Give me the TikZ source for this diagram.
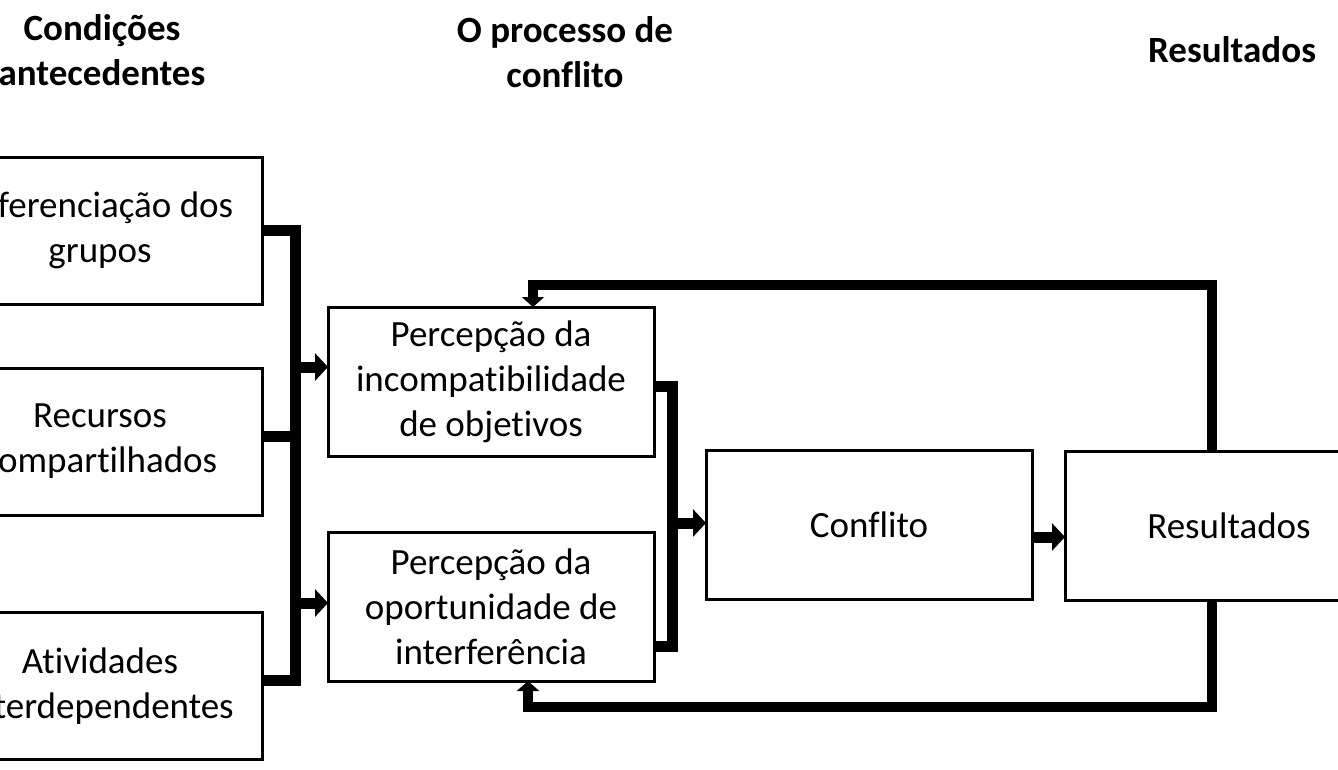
\documentclass[tikz,border=0pt]{standalone}
\usepackage{fontspec}
\setmainfont{Carlito}[Ligatures=NoCommon]
\usetikzlibrary{arrows.meta,calc}
\begin{document}
\begin{tikzpicture}[x=1pt,y=-1pt,
  box/.style={draw,line width=3pt,rectangle,inner sep=0pt,outer sep=0pt,
    minimum height=147pt,align=center,font=\fontsize{37}{45}\selectfont},
  head/.style={align=center,font=\fontsize{37}{45}\selectfont\bfseries},
  bus/.style={line width=11pt,line join=miter,line cap=butt},
  fat/.style={line width=11pt,-{Triangle[length=13pt,width=27pt]}},
  fb/.style={line width=10pt,line join=miter,-{Triangle[length=10pt,width=22pt]}}]
\useasboundingbox (0,0) rectangle (1338,769);
\clip (0,0) rectangle (1338,769);
\fill[white] (0,0) rectangle (1338,769);
% headings
\node[head] (h1) at (102,50) {Condições\\antecedentes};
\node[head] (h2) at (565,52) {O processo de\\conflito};
\node[head] (h3) at (1232,50) {Resultados};
% left boxes
\node[box,minimum width=324pt] (b1) at (100,230.5) {Diferenciação dos\\grupos};
\node[box,minimum width=324pt] (b2) at (100,441.5) {Recursos\\compartilhados};
\node[box,minimum width=324pt] (b3) at (100,686) {Atividades\\interdependentes};
% middle boxes
\node[box,minimum width=326pt,minimum height=149pt] (p1) at (491,381.5) {Percepção da\\incompatibilidade\\de objetivos};
\node[box,minimum width=326pt,minimum height=149pt] (p2) at (491,606.5) {Percepção da\\oportunidade de\\interferência};
\node[box,minimum width=326pt,minimum height=149pt] (c) at (869,524.5) {Conflito};
\node[box,minimum width=328pt,minimum height=149pt] (r) at (1229,525.5) {Resultados};
% left bus
\coordinate (bx) at (295,0);
\draw[bus] (b1.east) -| (bx |- 0,680) -- (b3.east |- 0,680);
\draw[bus] (b2.east |- 0,436) -- (bx |- 0,436);
\coordinate (j1) at (295,367);
\coordinate (j2) at (295,603);
\draw[fat] (j1) -- (j1 -| p1.west);
\draw[fat] (j2) -- (j2 -| p2.west);
% middle bus
\coordinate (mx) at (672,0);
\draw[bus] (p1.east |- 0,386) -| (mx |- 0,646) -- (p2.east |- 0,646);
\coordinate (j3) at (672,523);
\draw[fat] (j3) -- (j3 -| c.west);
% conflito -> resultados
\draw[fat] (c.east |- 0,537) -- (r.west |- 0,537);
% feedback loops
\coordinate (fx) at (1212,0);
\coordinate (ft) at (533,285);
\coordinate (fbot) at (528,707);
\draw[fb] (fx |- r.north) |- (ft) -- (ft |- p1.north);
\draw[fb] (fx |- r.south) |- (fbot) -- (fbot |- p2.south);
\end{tikzpicture}
\end{document}
